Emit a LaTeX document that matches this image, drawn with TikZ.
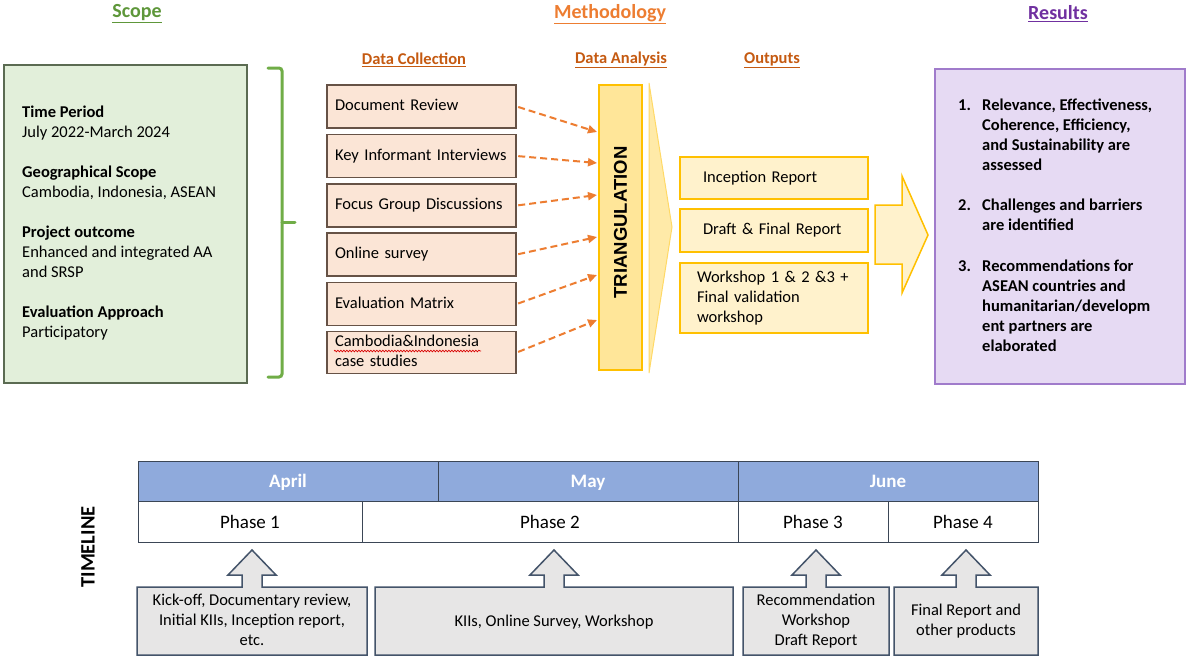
\documentclass[tikz,border=0pt]{standalone}
\usepackage{fontspec}
\setmainfont{Carlito}
\newfontfamily\arialfont{Liberation Sans}
\usetikzlibrary{arrows.meta}
\usetikzlibrary{decorations.pathmorphing}

\definecolor{scopegreen}{HTML}{5E973A}
\definecolor{bracegreen}{HTML}{70AD47}
\definecolor{scopefill}{HTML}{E2EFDA}
\definecolor{scopeline}{HTML}{5B6B52}
\definecolor{methorange}{HTML}{ED7D31}
\definecolor{subhdorange}{HTML}{C55A11}
\definecolor{dashorange}{HTML}{ED7D31}
\definecolor{respurple}{HTML}{7030A0}
\definecolor{resfill}{HTML}{E6DAF3}
\definecolor{resline}{HTML}{A07BCB}
\definecolor{dcfill}{HTML}{FBE5D6}
\definecolor{dcline}{HTML}{665246}
\definecolor{trifill}{HTML}{FFE699}
\definecolor{amberline}{HTML}{FFC000}
\definecolor{outfill}{HTML}{FFF2CC}
\definecolor{wedgeline}{HTML}{FFD966}
\definecolor{monthblue}{HTML}{8FAADC}
\definecolor{tableline}{HTML}{3B4656}
\definecolor{callfill}{HTML}{E7E6E6}
\definecolor{callline}{HTML}{44546A}

\newcommand{\bodyfont}{\fontsize{16.5pt}{20pt}\selectfont}
\newcommand{\hdfont}{\fontsize{20pt}{24pt}\selectfont}
\newcommand{\tlfont}{\fontsize{19pt}{23pt}\selectfont}

\begin{document}
\begin{tikzpicture}[x=1pt,y=1pt,yscale=-1,xscale=1,
	heading/.style={inner sep=0.75pt, font=\hdfont\bfseries},
	subheading/.style={inner sep=0.75pt, font=\bodyfont\bfseries, text=subhdorange},
	dcbox/.style={draw=dcline, fill=dcfill, line width=1.5pt, inner xsep=8pt, inner ysep=1pt, text width=173pt, minimum height=43pt, align=left, font=\bodyfont, execute at begin node=\strut, execute at end node=\strut},
	outbox/.style={draw=amberline, fill=outfill, line width=1.5pt, inner ysep=1pt, minimum height=42pt, align=left, font=\bodyfont, execute at begin node=\strut, execute at end node=\strut},
	dasharrow/.style={draw=dashorange, line width=2pt, dash pattern=on 7pt off 4pt, -{Triangle[length=9pt,width=8pt]}},
	brace/.style={draw=bracegreen, line width=3pt, rounded corners=3pt, line cap=round},
	monthcell/.style={draw=tableline, fill=monthblue, line width=1pt, minimum width=300pt, minimum height=40pt, inner sep=0pt, text height=15pt, text depth=2pt, text=white, font=\tlfont\bfseries},
	phasecell/.style={draw=tableline, fill=white, line width=1pt, minimum height=41pt, inner sep=0pt, text height=15pt, text depth=2pt, font=\tlfont},
	callbox/.style={draw=callline, fill=callfill, line width=1.5pt},
	calltext/.style={align=center, inner sep=0pt, font=\bodyfont, execute at begin node=\strut, execute at end node=\strut}
	]
	\useasboundingbox (0,0) rectangle (1186,657);
	\fill[white] (0,0) rectangle (1186,657);

	% Text Node
	\draw (137,14) node (scopehd) [heading, text=scopegreen] {\underline{Scope}};
	% Text Node
	\draw (610,14) node (methhd) [heading, text=methorange] {\underline{Methodology}};
	% Text Node
	\draw (1058,14) node (reshd) [heading, text=respurple] {\underline{Results}};
	% Text Node
	\draw (414,60) node (dchd) [subheading] {\underline{Data Collection}};
	% Text Node
	\draw (621,60) node (dahd) [subheading] {\underline{Data Analysis}};
	% Text Node
	\draw (772,60) node (outhd) [subheading] {\underline{Outputs}};

	%Shape: Rectangle [scope]
	\draw (125.5,224) node (scope) [draw=scopeline, fill=scopefill, line width=1.5pt, minimum width=243pt, minimum height=318pt] {};
	% Text Node
	\draw (22,103.3) node (scopetxt) [anchor=north west, inner sep=0pt, align=left, font=\bodyfont] {\strut\textbf{Time Period}\\ July 2022-March 2024\\[20pt] \textbf{Geographical Scope}\\ Cambodia, Indonesia, ASEAN\\[20pt] \textbf{Project outcome}\\ Enhanced and integrated AA\\ and SRSP\\[20pt] \textbf{Evaluation Approach}\\ Participatory};

	%Curly brace
	\draw [brace] (268,68) -- (282,68) -- (282,377) -- (268,377) ;
	\draw [brace] (282,222) -- (295,222) ;

	%Shape: Rectangle [data collection]
	\draw (421.5,106.5) node (dc1) [dcbox] {Document Review};
	\draw (421.5,156) node (dc2) [dcbox] {Key Informant Interviews};
	\draw (421.5,205.5) node (dc3) [dcbox] {Focus Group Discussions};
	\draw (421.5,254.5) node (dc4) [dcbox] {Online survey};
	\draw (421.5,304) node (dc5) [dcbox] {Evaluation Matrix};
	\draw (421.5,352.5) node (dc6) [dcbox, minimum height=41pt] {Cambodia\&Indonesia\\ case studies};
	%Spell check mark
	\draw [red!85!black, line width=0.7pt, decorate, decoration={snake, amplitude=0.8pt, segment length=3pt}] (334,351) -- (481,351) ;

	%Shape: Rectangle [triangulation]
	\draw (620.5,227.5) node (tri) [draw=amberline, fill=trifill, line width=1.5pt, minimum width=43pt, minimum height=285pt] {};
	% Text Node
	\draw (620.5,222.5) node (trilabel) [rotate=90, inner sep=0pt, font=\arialfont\bfseries\fontsize{18.5pt}{22pt}\selectfont] {TRIANGULATION};

	%Straight Lines
	\foreach \i/\ty in {1/132, 2/163, 3/195, 4/237, 5/275, 6/320}{
		\coordinate (t\i) at (597,\ty);
		\draw [dasharrow, shorten <=1.5pt] (dc\i.east) -- (t\i) ;
	}

	%Shape: Triangle
	\draw [draw=wedgeline, fill=trifill!85!white, line width=1pt] (649,83) -- (672,227) -- (649,373) -- cycle ;

	%Shape: Rectangle [outputs]
	\draw (774,178) node (out1) [outbox, inner xsep=23pt, text width=142pt] {Inception Report};
	\draw (774,230.5) node (out2) [outbox, inner xsep=23pt, text width=142pt, minimum height=43pt] {Draft \& Final Report};
	\draw (774,298) node (out3) [outbox, inner xsep=17pt, text width=154pt, minimum height=70pt] {Workshop 1 \& 2 \&3 +\\ Final validation\\ workshop};

	%Shape: Right Arrow
	\draw [draw=amberline, fill=outfill, line width=1.5pt] (875,205) -- (902,205) -- (902,176) -- (928,235) -- (902,293) -- (902,264) -- (875,264) -- cycle ;

	%Shape: Rectangle [results]
	\draw (1059.5,226.5) node (res) [draw=resline, fill=resfill, line width=2pt, minimum width=250pt, minimum height=315pt] {};
	% Text Node
	\draw (958,96.3) node (r1n) [anchor=north west, inner sep=0pt, font=\bodyfont\bfseries] {\strut 1.};
	\draw (982,96.3) node (r1) [anchor=north west, inner sep=0pt, align=left, font=\bodyfont\bfseries] {\strut Relevance, Effectiveness,\\ Coherence, Efficiency,\\ and Sustainability are\\ assessed};
	% Text Node
	\draw (958,196.3) node (r2n) [anchor=north west, inner sep=0pt, font=\bodyfont\bfseries] {\strut 2.};
	\draw (982,196.3) node (r2) [anchor=north west, inner sep=0pt, align=left, font=\bodyfont\bfseries] {\strut Challenges and barriers\\ are identified};
	% Text Node
	\draw (958,257.3) node (r3n) [anchor=north west, inner sep=0pt, font=\bodyfont\bfseries] {\strut 3.};
	\draw (982,257.3) node (r3) [anchor=north west, inner sep=0pt, align=left, font=\bodyfont\bfseries] {\strut Recommendations for\\ ASEAN countries and\\ humanitarian/developm\\ ent partners are\\ elaborated};

	% Text Node
	\draw (88,547) node (tl) [rotate=90, inner sep=0pt, font=\bfseries\fontsize{20.5pt}{24pt}\selectfont] {TIMELINE};

	%Timeline table
	\draw (250,521.5) node (ph1) [phasecell, minimum width=224pt] {Phase 1};
	\draw (550,521.5) node (ph2) [phasecell, minimum width=376pt] {Phase 2};
	\draw (813,521.5) node (ph3) [phasecell, minimum width=150pt] {Phase 3};
	\draw (963,521.5) node (ph4) [phasecell, minimum width=150pt] {Phase 4};
	\foreach \m/\cx in {April/288, May/588, June/888}
		\draw (\cx,481) node (\m) [monthcell] {\m};

	%Shape: Up Arrow Callout
	\foreach \l/\r/\c in {137/367/252, 375/733/554, 743/889/816, 894/1038/966}
		\draw [callbox] (\l,655) -- (\l,587) -- (\c-10,587) -- (\c-10,575) -- (\c-24,575) -- (\c,550) -- (\c+24,575) -- (\c+10,575) -- (\c+10,587) -- (\r,587) -- (\r,655) -- cycle ;
	% Text Node
	\draw (252,623) node (cbt1) [calltext] {Kick-off, Documentary review,\\ Initial KIIs, Inception report,\\ etc.};
	\draw (554,622) node (cbt2) [calltext] {KIIs, Online Survey, Workshop};
	\draw (816,623) node (cbt3) [calltext] {Recommendation\\ Workshop\\ Draft Report};
	\draw (966,623) node (cbt4) [calltext] {Final Report and\\ other products};
\end{tikzpicture}
\end{document}
